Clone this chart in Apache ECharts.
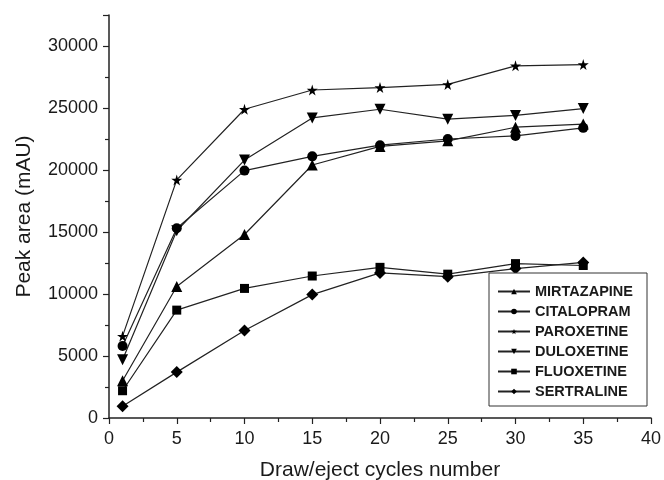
<!DOCTYPE html>
<html>
<head>
<meta charset="utf-8">
<script src="https://cdn.jsdelivr.net/npm/echarts@6/dist/echarts.min.js"></script>
<style>
  html, body { margin: 0; padding: 0; background: #fff; }
  #chart { width: 664px; height: 480px; }
</style>
</head>
<body>
<div id="chart"></div>
<script>
// draw/eject cycles
const cycles = [1, 5, 10, 15, 20, 25, 30, 35]

// peak areas (mAU)
const mirtazapine = [3000, 10600, 14800, 20400, 21900, 22350, 23450, 23700]
const citalopram = [5800, 15300, 19950, 21100, 22000, 22500, 22750, 23400]
const paroxetine = [6600, 19200, 24900, 26450, 26650, 26900, 28400, 28500]
const duloxetine = [4700, 15100, 20800, 24200, 24900, 24100, 24400, 24950]
const fluoxetine = [2200, 8700, 10450, 11450, 12150, 11600, 12450, 12300]
const sertraline = [950, 3700, 7050, 9950, 11700, 11400, 12050, 12550]

const starPath = 'path://M50,0 L61,35 L98,35 L68,57 L79,91 L50,70 L21,91 L32,57 L2,35 L39,35 Z'

const textColor = '#1a1a1a'
const lineColor = '#222'

const chart = echarts.init(document.getElementById('chart'))

// 一条折线
const makeSeries = (name, values, symbol, size, rotate) => ({
  name: name,
  type: 'line',
  data: cycles.map((c, i) => [c, values[i]]),
  symbol: symbol,
  symbolSize: size,
  symbolRotate: rotate || 0,
  showAllSymbol: true,
  lineStyle: { color: lineColor, width: 1.2 },
  itemStyle: { color: '#000' },
  emphasis: { disabled: true }
})

const option = {
  animation: false,
  textStyle: { fontFamily: 'Liberation Sans, Arial, sans-serif' },
  grid: {
    left: 109,
    right: 13,
    top: 15,
    bottom: 62,
    containLabel: false,
    outerBoundsMode: 'none'
  },
  xAxis: {
    type: 'value',
    min: 0,
    max: 40,
    interval: 5,
    name: 'Draw/eject cycles number',
    nameLocation: 'middle',
    nameGap: 42,
    nameTextStyle: { fontSize: 21, color: textColor },
    axisLine: { lineStyle: { color: lineColor, width: 1.5 } },
    axisTick: { inside: false, length: 6, lineStyle: { color: lineColor, width: 1.2 } },
    minorTick: { show: true, splitNumber: 2, length: 4, lineStyle: { color: lineColor, width: 1.2 } },
    axisLabel: { fontSize: 18, color: textColor, margin: 12 },
    splitLine: { show: false }
  },
  yAxis: {
    type: 'value',
    min: 0,
    max: 32500,
    interval: 5000,
    name: 'Peak area (mAU)',
    nameLocation: 'middle',
    nameGap: 74,
    nameTextStyle: { fontSize: 21, color: textColor },
    axisLine: { show: true, lineStyle: { color: lineColor, width: 1.5 } },
    axisTick: { show: true, length: 6, lineStyle: { color: lineColor, width: 1.2 } },
    minorTick: { show: true, splitNumber: 2, length: 4, lineStyle: { color: lineColor, width: 1.2 } },
    axisLabel: {
      fontSize: 18,
      color: textColor,
      margin: 11,
      showMaxLabel: false,
      formatter: v => String(v)
    },
    splitLine: { show: false }
  },
  legend: {
    orient: 'vertical',
    left: 489,
    top: 273,
    itemWidth: 32,
    itemHeight: 7,
    itemGap: 5,
    padding: [11, 14, 7, 8],
    borderColor: '#333',
    borderWidth: 1,
    backgroundColor: '#fff',
    textStyle: { fontSize: 14.5, fontWeight: 'bold', color: textColor },
    data: ['MIRTAZAPINE', 'CITALOPRAM', 'PAROXETINE', 'DULOXETINE', 'FLUOXETINE', 'SERTRALINE']
  },
  series: [
    makeSeries('MIRTAZAPINE', mirtazapine, 'triangle', 11),
    makeSeries('CITALOPRAM', citalopram, 'circle', 10),
    makeSeries('PAROXETINE', paroxetine, starPath, 11),
    makeSeries('DULOXETINE', duloxetine, 'triangle', 11, 180),
    makeSeries('FLUOXETINE', fluoxetine, 'rect', 9),
    makeSeries('SERTRALINE', sertraline, 'diamond', 12)
  ]
}

chart.setOption(option)
</script>
</body>
</html>
